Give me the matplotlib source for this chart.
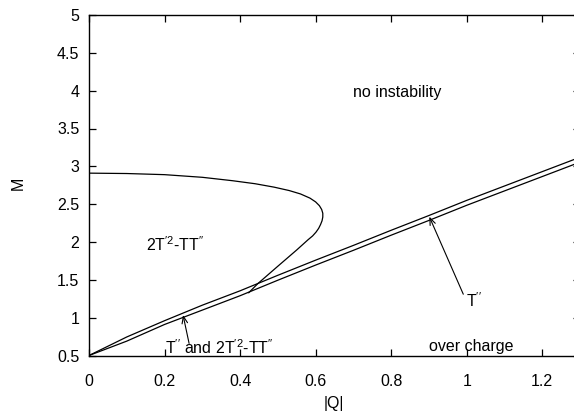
import matplotlib
matplotlib.use("Agg")
import matplotlib.pyplot as plt

plt.rcParams['font.family'] = ['Liberation Sans', 'DejaVu Sans']
plt.rcParams['mathtext.fontset'] = 'custom'
plt.rcParams['mathtext.rm'] = 'Liberation Sans'
plt.rcParams['mathtext.it'] = 'Liberation Sans'

# Upper boundary line (T'')
q_line = [0, 0.1, 0.2, 0.3, 0.4, 0.5, 0.6, 0.7, 0.8, 0.9, 1.0, 1.1, 1.2, 1.3]
m_upper = [0.5, 0.745, 0.96, 1.165, 1.355, 1.56, 1.76, 1.955, 2.155, 2.35, 2.55, 2.74, 2.93, 3.12]
# Lower boundary line (over charge)
m_lower = [0.5, 0.69, 0.91, 1.10, 1.29, 1.495, 1.695, 1.89, 2.09, 2.285, 2.485, 2.675, 2.865, 3.055]

# 2T'^2 - TT'' boundary curve
q_curve = [0, 0.1, 0.2, 0.3, 0.38, 0.44, 0.49, 0.53, 0.56, 0.585, 0.600, 0.610, 0.616,
           0.619, 0.619, 0.617, 0.613, 0.608, 0.601, 0.592, 0.58, 0.55, 0.50, 0.447, 0.423]
m_curve = [2.91, 2.905, 2.89, 2.855, 2.81, 2.77, 2.725, 2.68, 2.635, 2.58, 2.53, 2.48, 2.43,
           2.38, 2.33, 2.28, 2.23, 2.18, 2.13, 2.08, 2.03, 1.895, 1.68, 1.45, 1.33]

xticks = [0, 0.2, 0.4, 0.6, 0.8, 1.0, 1.2]
xticklabels = ['0', '0.2', '0.4', '0.6', '0.8', '1', '1.2']
yticks = [0.5, 1, 1.5, 2, 2.5, 3, 3.5, 4, 4.5, 5]
yticklabels = ['0.5', '1', '1.5', '2', '2.5', '3', '3.5', '4', '4.5', '5']

fig = plt.figure(figsize=(5.74, 4.17), dpi=100)
W, H = 574, 417
ax = fig.add_axes([89 / W, (H - 355.5) / H, (580 - 89) / W, (355.5 - 15) / H])

lw = 0.9
ax.plot(q_line, m_upper, color='black', lw=lw)
ax.plot(q_line, m_lower, color='black', lw=lw)
ax.plot(q_curve, m_curve, color='black', lw=lw)

fs = 11.5
ax.set_xlim(0, 1.3)
ax.set_ylim(0.5, 5)
ax.set_xticks(xticks)
ax.set_xticklabels(xticklabels)
ax.set_yticks(yticks)
ax.set_yticklabels(yticklabels)
ax.tick_params(direction='in', length=5, width=0.9, top=True, right=True,
               labelsize=fs)
ax.tick_params(axis='x', pad=13)
ax.tick_params(axis='y', pad=7)
for s in ax.spines.values():
    s.set_linewidth(1.0)

ax.set_xlabel('|Q|', fontsize=fs)
ax.set_ylabel('M', fontsize=fs)
ax.xaxis.set_label_coords((334 - 89) / 491, (355.5 - 396) / 340.5)
ax.yaxis.set_label_coords((26 - 89) / 491, 0.507)

ax.text(0.70, 3.97, 'no instability', fontsize=fs, ha='left', va='center')
ax.text(0.15, 1.97, r"2T$^{\prime 2}$-TT$^{\prime\prime}$", fontsize=fs, ha='left', va='center')
ax.text(0.20, 0.60, r"T$^{\prime\prime}$ and 2T$^{\prime 2}$-TT$^{\prime\prime}$", fontsize=fs,
        ha='left', va='center')
ax.text(0.999, 1.22, r"T$^{\prime\prime}$", fontsize=fs, ha='left', va='center')
ax.text(0.90, 0.62, 'over charge', fontsize=fs, ha='left', va='center')

arrowprops = dict(arrowstyle='->,head_length=0.5,head_width=0.2', color='black', lw=0.8,
                  shrinkA=0, shrinkB=0)
ax.annotate('', xy=(0.249, 1.035), xytext=(0.265, 0.66), arrowprops=arrowprops)
ax.annotate('', xy=(0.901, 2.335), xytext=(0.991, 1.31), arrowprops=arrowprops)

fig.savefig('out.png', dpi=100)
